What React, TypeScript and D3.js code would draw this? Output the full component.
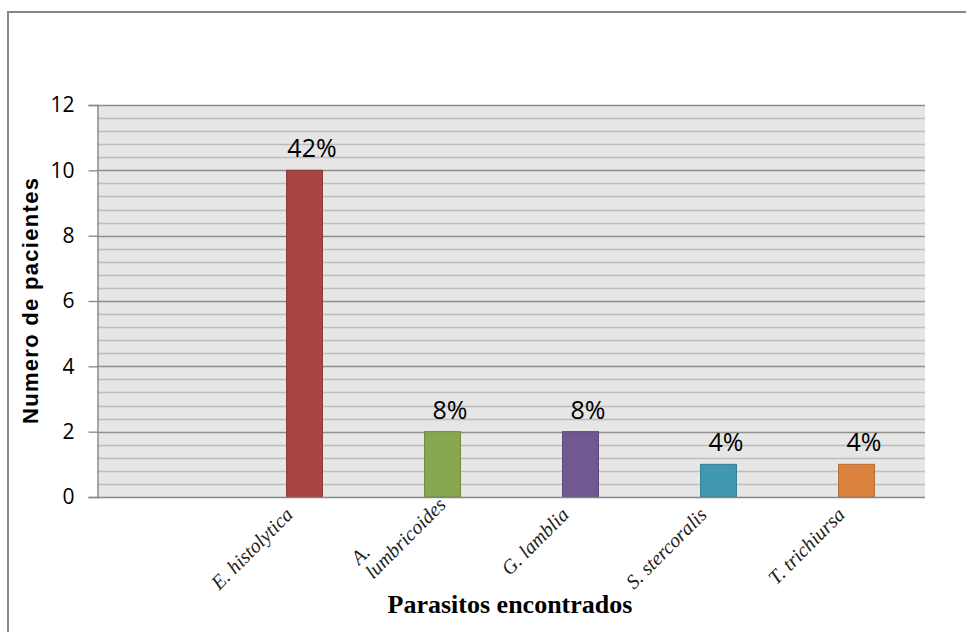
import React, { useEffect, useRef } from "react";
import * as d3 from "d3";

const categories = ["", "E. histolytica", "A.\nlumbricoides", "G. lamblia", "S. stercoralis", "T. trichiursa"];
const values: (number | null)[] = [null, 10, 2, 2, 1, 1];
const percentLabels = ["", "42%", "8%", "8%", "4%", "4%"];
const yMajorTicks = [0, 2, 4, 6, 8, 10, 12];
const yMinorStep = 0.4;
const yTitle = "Numero de pacientes";
const xTitle = "Parasitos encontrados";

const barFills = ["#000000", "#A94542", "#88A64E", "#705890", "#4298B1", "#DB833E"];
const barStrokes = ["#000000", "#8C3735", "#6F8A3D", "#5B4775", "#347D92", "#B86B30"];

const W = 966;
const H = 632;
const M = { left: 97, right: 925, top: 105, bottom: 497 };

export default function App() {
  const ref = useRef<SVGSVGElement | null>(null);

  useEffect(() => {
    const svg = d3.select(ref.current);
    svg.selectAll("*").remove();

    // outer chart border
    svg.append("rect")
      .attr("x", 8).attr("y", 12)
      .attr("width", W + 20).attr("height", H + 20)
      .attr("fill", "#ffffff")
      .attr("stroke", "#878787").attr("stroke-width", 2);

    const x = d3.scaleBand<string>()
      .domain(categories.map((_, i) => String(i)))
      .range([M.left, M.right])
      .paddingInner(0.74)
      .paddingOuter(0.37);
    const y = d3.scaleLinear().domain([0, 12]).range([M.bottom, M.top]);

    // plot background
    svg.append("rect")
      .attr("x", M.left).attr("y", M.top)
      .attr("width", M.right - M.left).attr("height", M.bottom - M.top)
      .attr("fill", "#e6e6e6");

    // minor gridlines
    const minor = d3.range(0, 12 + 1e-6, yMinorStep).filter(v => Math.abs(v / 2 - Math.round(v / 2)) > 1e-6);
    svg.append("g").selectAll("line").data(minor).join("line")
      .attr("x1", M.left).attr("x2", M.right)
      .attr("y1", d => Math.round(y(d)) + 0.5).attr("y2", d => Math.round(y(d)) + 0.5)
      .attr("stroke", "#bdbdbd").attr("stroke-width", 1.3);

    // major gridlines
    svg.append("g").selectAll("line").data(yMajorTicks.filter(t => t > 0)).join("line")
      .attr("x1", M.left).attr("x2", M.right)
      .attr("y1", d => Math.round(y(d)) + 0.5).attr("y2", d => Math.round(y(d)) + 0.5)
      .attr("stroke", "#8e8e8e").attr("stroke-width", 1.3);

    // y axis
    const yAxis = d3.axisLeft(y).tickValues(yMajorTicks).tickSize(9).tickPadding(14).tickFormat(d3.format("d"));
    const gy = svg.append("g").attr("transform", `translate(${M.left + 0.5},0)`).call(yAxis);
    gy.select(".domain").attr("stroke", "#868686").attr("stroke-width", 1.3);
    gy.selectAll(".tick line").attr("stroke", "#868686").attr("stroke-width", 1.3);
    gy.selectAll(".tick text")
      .attr("font-family", "'Open Sans', sans-serif")
      .attr("font-size", 21)
      .attr("fill", "#000");

    // bars
    const barData = values.map((v, i) => ({ v, i })).filter(d => d.v !== null) as { v: number; i: number }[];
    svg.append("g").selectAll("rect").data(barData).join("rect")
      .attr("x", d => x(String(d.i))! + 0.5)
      .attr("y", d => y(d.v))
      .attr("width", x.bandwidth())
      .attr("height", d => y(0) - y(d.v))
      .attr("fill", d => barFills[d.i])
      .attr("stroke", d => barStrokes[d.i])
      .attr("stroke-width", 1);

    // x axis line
    svg.append("line")
      .attr("x1", M.left).attr("x2", M.right)
      .attr("y1", M.bottom + 0.5).attr("y2", M.bottom + 0.5)
      .attr("stroke", "#868686").attr("stroke-width", 1.3);

    // percentage labels
    svg.append("g").selectAll("text").data(barData).join("text")
      .attr("x", d => x(String(d.i))! + x.bandwidth() / 2 + 8)
      .attr("y", d => y(d.v) - 13)
      .attr("text-anchor", "middle")
      .attr("font-family", "'Open Sans', sans-serif")
      .attr("font-size", 25)
      .attr("fill", "#000")
      .text(d => percentLabels[d.i]);

    // category labels, rotated
    const lh = 20;
    categories.forEach((c, i) => {
      if (!c) return;
      const cx = x(String(i))! + x.bandwidth() / 2;
      const lines = c.split("\n");
      const extra = lines.length - 1;
      const g = svg.append("g")
        .attr("transform", `translate(${cx - 10 + 15 * extra},${M.bottom + 19 - 10 * extra}) rotate(-45)`);
      const last = g.append("text")
        .attr("x", 0).attr("y", 0)
        .attr("text-anchor", "end")
        .attr("font-family", "'Liberation Serif', 'Times New Roman', serif")
        .attr("font-style", "italic")
        .attr("font-size", 20)
        .attr("fill", "#222")
        .text(lines[lines.length - 1]);
      if (extra > 0) {
        const w = (last.node() as SVGTextElement).getComputedTextLength();
        lines.slice(0, -1).forEach((ln, k) => {
          g.append("text")
            .attr("x", -w)
            .attr("y", -lh * (lines.length - 1 - k))
            .attr("text-anchor", "start")
            .attr("font-family", "'Liberation Serif', 'Times New Roman', serif")
            .attr("font-style", "italic")
            .attr("font-size", 20)
            .attr("fill", "#222")
            .text(ln);
        });
      }
    });

    // axis titles
    svg.append("text")
      .attr("x", (M.left + M.right) / 2 - 1)
      .attr("y", 613)
      .attr("text-anchor", "middle")
      .attr("font-family", "'Liberation Serif', 'Times New Roman', serif")
      .attr("font-weight", "bold")
      .attr("font-size", 26)
      .attr("fill", "#000")
      .text(xTitle);

    svg.append("text")
      .attr("transform", `translate(38,${(M.top + M.bottom) / 2}) rotate(-90)`)
      .attr("text-anchor", "middle")
      .attr("font-family", "'Liberation Sans', Arial, sans-serif")
      .attr("font-weight", "bold")
      .attr("font-size", 22)
      .attr("textLength", 246)
      .attr("lengthAdjust", "spacing")
      .attr("fill", "#000")
      .text(yTitle);
  }, []);

  return (
    <svg
      ref={ref}
      width={W}
      height={H}
      viewBox={`0 0 ${W} ${H}`}
      style={{ position: "absolute", left: 0, top: 0, display: "block", background: "#fff" }}
    />
  );
}
